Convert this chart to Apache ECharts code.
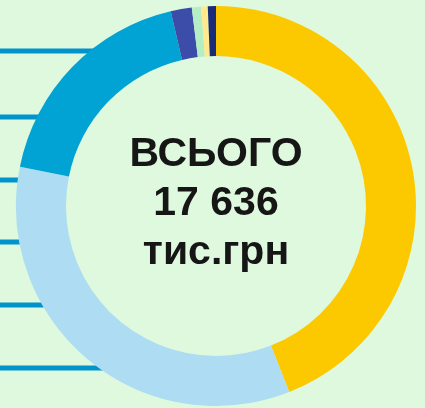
<!DOCTYPE html>
<html>
<head>
<meta charset="utf-8">
<script src="https://cdn.jsdelivr.net/npm/echarts@6/dist/echarts.min.js"></script>
<style>
  html, body { margin: 0; padding: 0; background: #def9de; }
  #chart { width: 425px; height: 408px; }
</style>
</head>
<body>
<div id="chart"></div>
<script>
// Slice values, clockwise from the top (тис.грн)
const categories = ['Частина 1', 'Частина 2', 'Частина 3', 'Частина 4', 'Частина 5', 'Частина 6', 'Частина 7'];
const values = [7766, 6016, 3213, 300, 132, 93, 116];
const sliceColors = ['#fcc900', '#aedcf2', '#00a3d3', '#3b4da8', '#b5edc5', '#ffe98c', '#1a2c78'];
const totalLabel = 'ВСЬОГО';
const unitLabel = 'тис.грн';

const total = values.reduce((a, b) => a + b, 0);
const totalText = String(total).replace(/\B(?=(\d{3})+(?!\d))/g, ' ');

const chart = echarts.init(document.getElementById('chart'));

// ring geometry
const cx = 216, cy = 206, rIn = 150, rOut = 200;
const rMid = (rIn + rOut) / 2;

// leader lines coming in from the left edge, ending under the ring
const lineRows = [51, 117, 180, 242, 305, 368];
const leaders = lineRows.map(y => {
	const dy = y - cy;
	const xEnd = cx - Math.sqrt(Math.max(0, rMid * rMid - dy * dy));
	return {
		type: 'line',
		z: 0,
		shape: { x1: 0, y1: y, x2: xEnd, y2: y },
		style: { stroke: '#0093cc', lineWidth: 5 }
	};
});

const option = {
	backgroundColor: '#def9de',
	animation: false,
	graphic: [
		...leaders,
		{
			type: 'text',
			z: 10,
			x: 216,
			y: 204,
			style: {
				text: `${totalLabel}\n${totalText}\n${unitLabel}`,
				fill: '#161616',
				font: 'bold 41px "Liberation Sans", Arial, sans-serif',
				lineHeight: 49,
				align: 'center',
				verticalAlign: 'middle'
			}
		}
	],
	series: [{
		type: 'pie',
		z: 2,
		center: [cx, cy],
		radius: [rIn, rOut],
		startAngle: 90,
		clockwise: true,
		label: { show: false },
		labelLine: { show: false },
		emphasis: { disabled: true },
		itemStyle: { borderWidth: 0 },
		data: categories.map((name, i) => ({
			name,
			value: values[i],
			itemStyle: { color: sliceColors[i] }
		}))
	}]
};

chart.setOption(option);
</script>
</body>
</html>
